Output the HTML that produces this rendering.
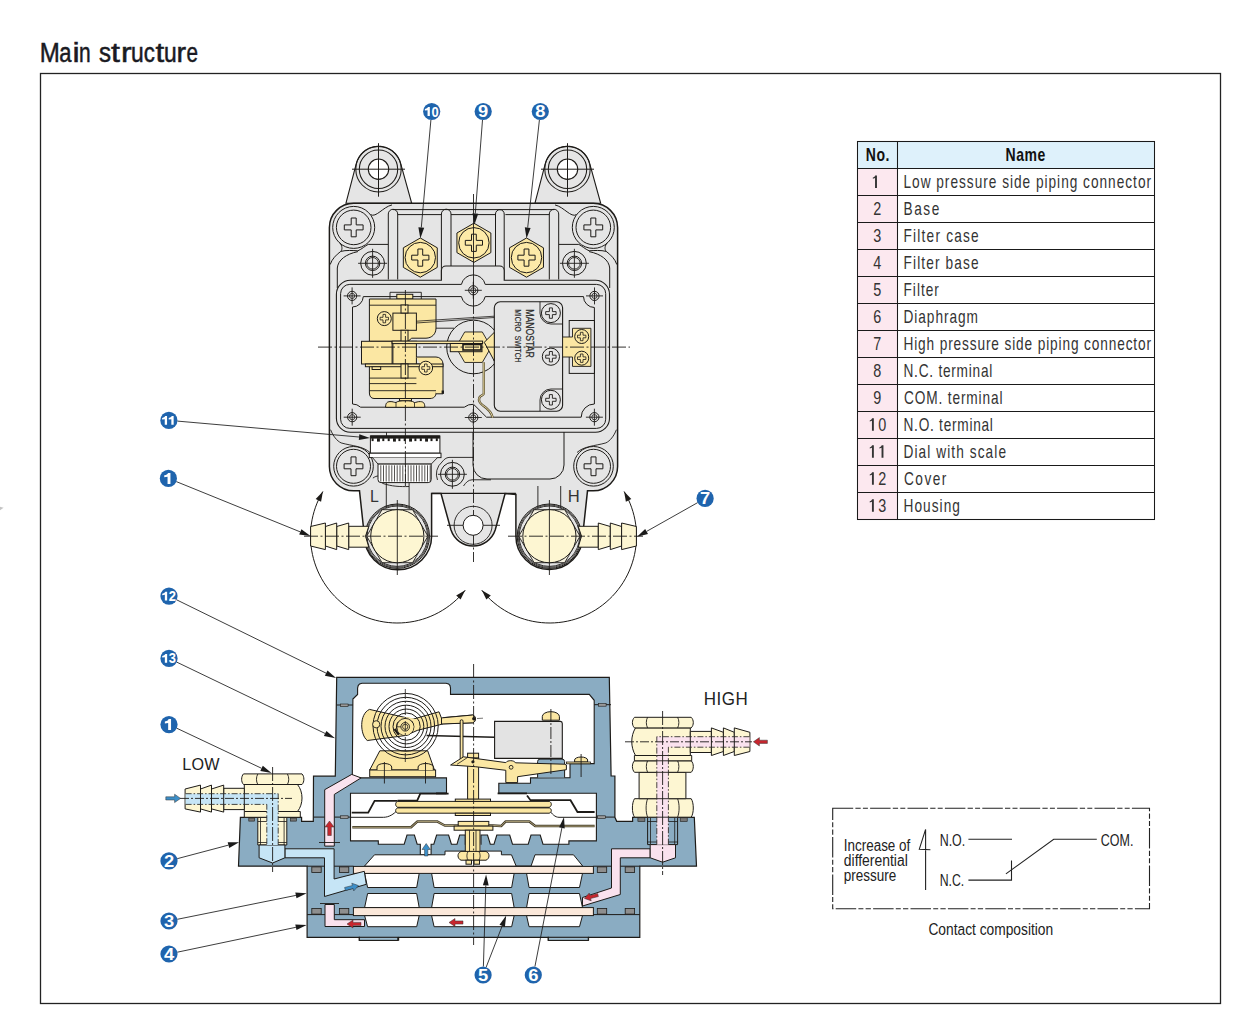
<!DOCTYPE html>
<html><head><meta charset="utf-8"><style>
html,body{margin:0;padding:0;background:#fff;}
svg{display:block;font-family:"Liberation Sans", sans-serif;}
</style></head><body>
<svg width="1243" height="1021" viewBox="0 0 1243 1021">
<rect width="1243" height="1021" fill="#fff"/>
<rect x="40.5" y="73.5" width="1180" height="930" fill="none" stroke="#222" stroke-width="1.3"/>
<g font-size="28" fill="#1a1a22" stroke="#1a1a22" stroke-width="0.5"><text transform="scale(0.8596,1)" x="46.22" y="61.8">M</text><text transform="scale(0.7857,1)" x="75.43" y="61.8">a</text><text transform="scale(1.1500,1)" x="63.08" y="61.8">i</text><text transform="scale(0.7482,1)" x="105.46" y="61.8">n</text><text transform="scale(0.8600,1)" x="115.03" y="61.8">s</text><text transform="scale(1.1500,1)" x="96.45" y="61.8">t</text><text transform="scale(1.1429,1)" x="105.77" y="61.8">r</text><text transform="scale(0.8155,1)" x="160.78" y="61.8">u</text><text transform="scale(0.7952,1)" x="180.77" y="61.8">c</text><text transform="scale(1.1188,1)" x="139.01" y="61.8">t</text><text transform="scale(0.8155,1)" x="201.25" y="61.8">u</text><text transform="scale(1.0286,1)" x="171.68" y="61.8">r</text><text transform="scale(0.7383,1)" x="252.51" y="61.8">e</text></g>
<path d="M0,506.8 L3.6,507.8 L0,510.2 Z" fill="#c4c4c4"/>
<path d="M322.90,491.49 L320.75,495.28 L318.79,499.17 L317.03,503.16 L315.48,507.23 L314.13,511.37 L312.99,515.57 L312.06,519.82 L311.34,524.12 L310.85,528.45 L310.57,532.79 L310.51,537.15 L310.66,541.50 L311.04,545.84 L311.63,550.15 L312.44,554.43 L313.46,558.67 L314.69,562.84 L316.13,566.95 L317.77,570.98 L319.62,574.93 L321.66,578.78 L323.89,582.52 L326.31,586.14 L328.90,589.64 L331.67,593.00 L334.60,596.22 L337.69,599.29 L340.93,602.20 L344.31,604.95 L347.82,607.52 L351.46,609.91 L355.22,612.12 L359.08,614.13 L363.04,615.95 L367.08,617.57 L371.20,618.98 L375.38,620.19 L379.62,621.18 L383.91,621.96 L388.23,622.52 L392.57,622.87 L396.92,623.00 L401.28,622.91 L405.62,622.60 L409.94,622.07 L414.23,621.33 L418.48,620.38 L422.68,619.21 L426.81,617.83 L430.87,616.25 L434.84,614.46 L438.72,612.48 L442.49,610.31 L446.15,607.95 L449.69,605.41 L453.09,602.69 L456.36,599.81 L459.48,596.77 L462.43,593.57 L465.23,590.23" fill="none" stroke="#1d1b18" stroke-width="1.0"/>
<path d="M322.9,491.5 L321.1,501.8 L315.7,499.1Z" fill="#1d1b18"/>
<path d="M465.2,590.2 L460.6,599.6 L456.2,595.5Z" fill="#1d1b18"/>
<path d="M624.10,491.49 L626.25,495.28 L628.21,499.17 L629.97,503.16 L631.52,507.23 L632.87,511.37 L634.01,515.57 L634.94,519.82 L635.66,524.12 L636.15,528.45 L636.43,532.79 L636.49,537.15 L636.34,541.50 L635.96,545.84 L635.37,550.15 L634.56,554.43 L633.54,558.67 L632.31,562.84 L630.87,566.95 L629.23,570.98 L627.38,574.93 L625.34,578.78 L623.11,582.52 L620.69,586.14 L618.10,589.64 L615.33,593.00 L612.40,596.22 L609.31,599.29 L606.07,602.20 L602.69,604.95 L599.18,607.52 L595.54,609.91 L591.78,612.12 L587.92,614.13 L583.96,615.95 L579.92,617.57 L575.80,618.98 L571.62,620.19 L567.38,621.18 L563.09,621.96 L558.77,622.52 L554.43,622.87 L550.08,623.00 L545.72,622.91 L541.38,622.60 L537.06,622.07 L532.77,621.33 L528.52,620.38 L524.32,619.21 L520.19,617.83 L516.13,616.25 L512.16,614.46 L508.28,612.48 L504.51,610.31 L500.85,607.95 L497.31,605.41 L493.91,602.69 L490.64,599.81 L487.52,596.77 L484.57,593.57 L481.77,590.23" fill="none" stroke="#1d1b18" stroke-width="1.0"/>
<path d="M624.1,491.5 L631.3,499.1 L625.9,501.8Z" fill="#1d1b18"/>
<path d="M481.8,590.2 L490.8,595.5 L486.4,599.6Z" fill="#1d1b18"/>
<path d="M345.90,203.3 L356.35,163.39 L356.68,162.24 L357.08,161.11 L357.53,160.00 L358.04,158.92 L358.60,157.86 L359.22,156.84 L359.90,155.85 L360.62,154.89 L361.39,153.98 L362.21,153.10 L363.08,152.27 L363.98,151.49 L364.93,150.76 L365.91,150.07 L366.93,149.44 L367.97,148.86 L369.05,148.34 L370.15,147.87 L371.28,147.47 L372.43,147.12 L373.59,146.83 L374.76,146.61 L375.95,146.44 L377.14,146.34 L378.34,146.30 L379.54,146.32 L380.73,146.41 L381.92,146.56 L383.10,146.77 L384.26,147.04 L385.42,147.37 L386.55,147.76 L387.66,148.21 L388.74,148.72 L389.80,149.28 L390.82,149.90 L391.82,150.57 L392.77,151.29 L393.69,152.06 L394.56,152.88 L395.39,153.74 L396.18,154.64 L396.91,155.59 L397.60,156.57 L398.24,157.58 L398.82,158.63 L399.34,159.71 L399.81,160.81 L400.22,161.94 L400.57,163.08 L411.70,203.3 Z" fill="#e5e5e5" stroke="#1d1b18" stroke-width="1.1"/>
<circle cx="378.50" cy="169.20" r="22.70" fill="none" stroke="#1d1b18" stroke-width="1.05"/>
<circle cx="378.50" cy="169.20" r="19.20" fill="none" stroke="#1d1b18" stroke-width="1.05"/>
<circle cx="378.50" cy="169.20" r="10.20" fill="#fff" stroke="#1d1b18" stroke-width="1.1"/>
<path d="M352.0,169.2H405.0M378.5,143.2V196.7" fill="none" stroke="#1d1b18" stroke-width="1.0"/>
<path d="M534.90,203.3 L545.35,163.39 L545.68,162.24 L546.08,161.11 L546.53,160.00 L547.04,158.92 L547.60,157.86 L548.22,156.84 L548.90,155.85 L549.62,154.89 L550.39,153.98 L551.21,153.10 L552.08,152.27 L552.98,151.49 L553.93,150.76 L554.91,150.07 L555.93,149.44 L556.97,148.86 L558.05,148.34 L559.15,147.87 L560.28,147.47 L561.43,147.12 L562.59,146.83 L563.76,146.61 L564.95,146.44 L566.14,146.34 L567.34,146.30 L568.54,146.32 L569.73,146.41 L570.92,146.56 L572.10,146.77 L573.26,147.04 L574.42,147.37 L575.55,147.76 L576.66,148.21 L577.74,148.72 L578.80,149.28 L579.82,149.90 L580.82,150.57 L581.77,151.29 L582.69,152.06 L583.56,152.88 L584.39,153.74 L585.18,154.64 L585.91,155.59 L586.60,156.57 L587.24,157.58 L587.82,158.63 L588.34,159.71 L588.81,160.81 L589.22,161.94 L589.57,163.08 L600.70,203.3 Z" fill="#e5e5e5" stroke="#1d1b18" stroke-width="1.1"/>
<circle cx="567.50" cy="169.20" r="22.70" fill="none" stroke="#1d1b18" stroke-width="1.05"/>
<circle cx="567.50" cy="169.20" r="19.20" fill="none" stroke="#1d1b18" stroke-width="1.05"/>
<circle cx="567.50" cy="169.20" r="10.20" fill="#fff" stroke="#1d1b18" stroke-width="1.1"/>
<path d="M541.0,169.2H594.0M567.5,143.2V196.7" fill="none" stroke="#1d1b18" stroke-width="1.0"/>
<path d="M329.4,227.5 A24.3,24.3 0 0 1 353.7,203.3 L593.3,203.3 A24.3,24.3 0 0 1 617.6,227.5 L617.6,466.5 A24.3,24.3 0 0 1 593.3,490.8 L587.5,490.8 L582.6,536.2 A33.3,33.3 0 0 1 515.9,536.2 L515.9,494.5 L505.1,493.6 L495.2,530.0 A23.3,23.3 0 0 1 451.0,530.0 L441.0,493.6 L431.6,493.6 L431.6,536.2 A33.3,33.3 0 0 1 364.4,536.2 L359.5,490.8 L353.7,490.8 A24.3,24.3 0 0 1 329.4,466.5 Z" fill="#e5e5e5" stroke="#1d1b18" stroke-width="1.5"/>
<circle cx="353.70" cy="227.40" r="21.00" fill="none" stroke="#1d1b18" stroke-width="1.0"/>
<circle cx="353.70" cy="227.40" r="17.30" fill="none" stroke="#1d1b18" stroke-width="1.0"/>
<path d="M351.20,218.00 L356.20,218.00 L356.20,224.90 L363.10,224.90 L363.10,229.90 L356.20,229.90 L356.20,236.80 L351.20,236.80 L351.20,229.90 L344.30,229.90 L344.30,224.90 L351.20,224.90Z" fill="none" stroke="#1d1b18" stroke-width="1.0"/>
<circle cx="593.30" cy="227.40" r="21.00" fill="none" stroke="#1d1b18" stroke-width="1.0"/>
<circle cx="593.30" cy="227.40" r="17.30" fill="none" stroke="#1d1b18" stroke-width="1.0"/>
<path d="M590.80,218.00 L595.80,218.00 L595.80,224.90 L602.70,224.90 L602.70,229.90 L595.80,229.90 L595.80,236.80 L590.80,236.80 L590.80,229.90 L583.90,229.90 L583.90,224.90 L590.80,224.90Z" fill="none" stroke="#1d1b18" stroke-width="1.0"/>
<circle cx="353.50" cy="466.30" r="19.80" fill="none" stroke="#1d1b18" stroke-width="1.0"/>
<circle cx="353.50" cy="466.30" r="17.00" fill="none" stroke="#1d1b18" stroke-width="1.0"/>
<path d="M351.00,456.90 L356.00,456.90 L356.00,463.80 L362.90,463.80 L362.90,468.80 L356.00,468.80 L356.00,475.70 L351.00,475.70 L351.00,468.80 L344.10,468.80 L344.10,463.80 L351.00,463.80Z" fill="none" stroke="#1d1b18" stroke-width="1.0"/>
<circle cx="593.50" cy="466.30" r="19.80" fill="none" stroke="#1d1b18" stroke-width="1.0"/>
<circle cx="593.50" cy="466.30" r="17.00" fill="none" stroke="#1d1b18" stroke-width="1.0"/>
<path d="M591.00,456.90 L596.00,456.90 L596.00,463.80 L602.90,463.80 L602.90,468.80 L596.00,468.80 L596.00,475.70 L591.00,475.70 L591.00,468.80 L584.10,468.80 L584.10,463.80 L591.00,463.80Z" fill="none" stroke="#1d1b18" stroke-width="1.0"/>
<path d="M370.5,214.6 C376,218 383,207 392,204.9" fill="none" stroke="#1d1b18" stroke-width="1"/>
<path d="M576.50,214.6 C571.00,218 564.00,207 555.00,204.9" fill="none" stroke="#1d1b18" stroke-width="1"/>
<path d="M339.6,242.5 C342.5,246 342.5,249.5 340.8,251.4 C336,255 332,259 330.2,264.5" fill="none" stroke="#1d1b18" stroke-width="1"/>
<path d="M607.40,242.5 C604.50,246 604.50,249.5 606.20,251.4 C611.00,255 615.00,259 616.80,264.5" fill="none" stroke="#1d1b18" stroke-width="1"/>
<path d="M340.8,251.4 C346,250 353,250.5 357.9,250.8 C362,249 365,246 368.2,244.4 L388.1,244.4" fill="none" stroke="#1d1b18" stroke-width="1"/>
<path d="M606.20,251.4 C601.00,250 594.00,250.5 589.10,250.8 C585.00,249 582.00,246 578.80,244.4 L558.90,244.4" fill="none" stroke="#1d1b18" stroke-width="1"/>
<path d="M357.9,251.6 C346,254 338,260 337.3,268 V288" fill="none" stroke="#1d1b18" stroke-width="1"/>
<path d="M589.10,251.6 C601.00,254 609.00,260 609.70,268 V288" fill="none" stroke="#1d1b18" stroke-width="1"/>
<path d="M437.5,480 A16,16 0 0 1 442,462 C444,459.5 446,457.6 449,457.4 H473.5" fill="none" stroke="#1d1b18" stroke-width="0.9"/>
<path d="M463.5,486 C466,482.5 468,480 472,479.8 H491" fill="none" stroke="#1d1b18" stroke-width="0.9"/>
<path d="M382.3,483.3 C392,486.5 400,486.8 409,486.5" fill="none" stroke="#1d1b18" stroke-width="0.9"/>
<circle cx="372.60" cy="263.30" r="11.90" fill="none" stroke="#1d1b18" stroke-width="1.0"/>
<circle cx="372.60" cy="263.30" r="7.20" fill="none" stroke="#1d1b18" stroke-width="1.0"/>
<circle cx="372.60" cy="263.30" r="5.80" fill="none" stroke="#1d1b18" stroke-width="0.9"/>
<path d="M358.1,263.3H387.1M372.6,248.8V277.8" fill="none" stroke="#1d1b18" stroke-width="0.9"/>
<circle cx="574.40" cy="263.30" r="11.90" fill="none" stroke="#1d1b18" stroke-width="1.0"/>
<circle cx="574.40" cy="263.30" r="7.20" fill="none" stroke="#1d1b18" stroke-width="1.0"/>
<circle cx="574.40" cy="263.30" r="5.80" fill="none" stroke="#1d1b18" stroke-width="0.9"/>
<path d="M559.9,263.3H588.9M574.4,248.8V277.8" fill="none" stroke="#1d1b18" stroke-width="0.9"/>
<circle cx="452.40" cy="474.30" r="11.90" fill="none" stroke="#1d1b18" stroke-width="1.0"/>
<circle cx="452.40" cy="474.30" r="7.20" fill="none" stroke="#1d1b18" stroke-width="1.0"/>
<circle cx="452.40" cy="474.30" r="5.80" fill="none" stroke="#1d1b18" stroke-width="0.9"/>
<path d="M437.9,474.3H466.9M452.4,459.8V488.8" fill="none" stroke="#1d1b18" stroke-width="0.9"/>
<path d="M388.3,279.5 V214 A4.7,4.7 0 0 1 397.7,214 V279.5" fill="none" stroke="#1d1b18" stroke-width="1"/>
<path d="M441.4,279.5 V214 A4.8,4.8 0 0 1 451.0,214 V266" fill="none" stroke="#1d1b18" stroke-width="1"/>
<path d="M495.5,266 V214 A4.35,4.35 0 0 1 504.2,214 V279.5" fill="none" stroke="#1d1b18" stroke-width="1"/>
<path d="M549.3,279.5 V214 A4.7,4.7 0 0 1 558.7,214 V279.5" fill="none" stroke="#1d1b18" stroke-width="1"/>
<path d="M393,209.6 H554 M397.7,214.6 H441.6 M451,214.6 H496 M505.4,214.6 H549.3" fill="none" stroke="#1d1b18" stroke-width="1"/>
<path d="M437.27,267.40 L420.30,277.20 L403.33,267.40 L403.33,247.80 L420.30,238.00 L437.27,247.80Z" fill="#fbe7a3" stroke="#1d1b18" stroke-width="1.0"/>
<circle cx="420.30" cy="257.60" r="15.20" fill="#fdeaa8" stroke="#1d1b18" stroke-width="1.0"/>
<path d="M417.90,249.00 L422.70,249.00 L422.70,255.20 L428.90,255.20 L428.90,260.00 L422.70,260.00 L422.70,266.20 L417.90,266.20 L417.90,260.00 L411.70,260.00 L411.70,255.20 L417.90,255.20Z" fill="none" stroke="#1d1b18" stroke-width="1.0"/>
<path d="M490.87,252.60 L473.90,262.40 L456.93,252.60 L456.93,233.00 L473.90,223.20 L490.87,233.00Z" fill="#fbe7a3" stroke="#1d1b18" stroke-width="1.0"/>
<circle cx="473.90" cy="242.80" r="15.20" fill="#fdeaa8" stroke="#1d1b18" stroke-width="1.0"/>
<path d="M471.50,234.20 L476.30,234.20 L476.30,240.40 L482.50,240.40 L482.50,245.20 L476.30,245.20 L476.30,251.40 L471.50,251.40 L471.50,245.20 L465.30,245.20 L465.30,240.40 L471.50,240.40Z" fill="none" stroke="#1d1b18" stroke-width="1.0"/>
<path d="M543.47,267.40 L526.50,277.20 L509.53,267.40 L509.53,247.80 L526.50,238.00 L543.47,247.80Z" fill="#fbe7a3" stroke="#1d1b18" stroke-width="1.0"/>
<circle cx="526.50" cy="257.60" r="15.20" fill="#fdeaa8" stroke="#1d1b18" stroke-width="1.0"/>
<path d="M524.10,249.00 L528.90,249.00 L528.90,255.20 L535.10,255.20 L535.10,260.00 L528.90,260.00 L528.90,266.20 L524.10,266.20 L524.10,260.00 L517.90,260.00 L517.90,255.20 L524.10,255.20Z" fill="none" stroke="#1d1b18" stroke-width="1.0"/>
<path d="M350.4,280.2 H441.4 V270.5 A4.5,4.5 0 0 1 445.9,266 H499.7 A4.5,4.5 0 0 1 504.2,270.5 V280.2 H595.5 A14,14 0 0 1 609.5,294.2 V418.3 A14,14 0 0 1 595.5,432.3 H350.4 A14,14 0 0 1 336.4,418.3 V294.2 A14,14 0 0 1 350.4,280.2 Z" fill="#e5e5e5" stroke="#1d1b18" stroke-width="1.1"/>
<path d="M350,284.4 H461.4 A12.2,12.2 0 0 1 485.2,284.4 H596.5 A9.2,9.2 0 0 1 605.7,293.6 V419.2 A9.2,9.2 0 0 1 596.5,428.4 H349.8 A9.2,9.2 0 0 1 340.6,419.2 V293.6 A9.2,9.2 0 0 1 349.8,284.4 Z" fill="none" stroke="#1d1b18" stroke-width="1.0"/>
<path d="M352.5,307 A11,11 0 0 0 363.3,296.6 H461.4 A12.2,12.2 0 0 0 485.2,296.6 H583.5 A11,11 0 0 0 594.4,307.5 V404 A13.2,13.2 0 0 0 581.2,417.2 H486.5 L473.6,404.3 A13.3,13.3 0 0 0 464.3,407.2 H360.6 A12,12 0 0 0 352.5,404 Z" fill="#e5e5e5" stroke="#1d1b18" stroke-width="1.0"/>
<circle cx="352.10" cy="295.90" r="4.60" fill="none" stroke="#1d1b18" stroke-width="1.0"/>
<circle cx="352.10" cy="295.90" r="2.60" fill="none" stroke="#1d1b18" stroke-width="0.8"/>
<path d="M343.6,295.9H360.6M352.1,287.4V304.4" fill="none" stroke="#1d1b18" stroke-width="0.9"/>
<circle cx="594.50" cy="295.90" r="4.60" fill="none" stroke="#1d1b18" stroke-width="1.0"/>
<circle cx="594.50" cy="295.90" r="2.60" fill="none" stroke="#1d1b18" stroke-width="0.8"/>
<path d="M586.0,295.9H603.0M594.5,287.4V304.4" fill="none" stroke="#1d1b18" stroke-width="0.9"/>
<circle cx="352.20" cy="417.20" r="4.60" fill="none" stroke="#1d1b18" stroke-width="1.0"/>
<circle cx="352.20" cy="417.20" r="2.60" fill="none" stroke="#1d1b18" stroke-width="0.8"/>
<path d="M343.7,417.2H360.7M352.2,408.7V425.7" fill="none" stroke="#1d1b18" stroke-width="0.9"/>
<circle cx="594.40" cy="417.20" r="4.60" fill="none" stroke="#1d1b18" stroke-width="1.0"/>
<circle cx="594.40" cy="417.20" r="2.60" fill="none" stroke="#1d1b18" stroke-width="0.8"/>
<path d="M585.9,417.2H602.9M594.4,408.7V425.7" fill="none" stroke="#1d1b18" stroke-width="0.9"/>
<circle cx="473.30" cy="290.30" r="4.60" fill="none" stroke="#1d1b18" stroke-width="1.0"/>
<circle cx="473.30" cy="290.30" r="2.60" fill="none" stroke="#1d1b18" stroke-width="0.8"/>
<path d="M464.8,290.3H481.8M473.3,281.8V298.8" fill="none" stroke="#1d1b18" stroke-width="0.9"/>
<circle cx="473.30" cy="417.50" r="4.60" fill="none" stroke="#1d1b18" stroke-width="1.0"/>
<circle cx="473.30" cy="417.50" r="2.60" fill="none" stroke="#1d1b18" stroke-width="0.8"/>
<path d="M464.8,417.5H481.8M473.3,409.0V426.0" fill="none" stroke="#1d1b18" stroke-width="0.9"/>
<circle cx="473.50" cy="347.00" r="26.80" fill="#e5e5e5" stroke="#1d1b18" stroke-width="1.0"/>
<rect x="494.3" y="301.8" width="68.3" height="109.4" rx="6" fill="#e5e5e5" stroke="#1d1b18" stroke-width="1.1"/>
<circle cx="550.90" cy="313.10" r="9.50" fill="none" stroke="#1d1b18" stroke-width="1.0"/>
<path d="M549.40,307.90 L552.40,307.90 L552.40,311.60 L556.10,311.60 L556.10,314.60 L552.40,314.60 L552.40,318.30 L549.40,318.30 L549.40,314.60 L545.70,314.60 L545.70,311.60 L549.40,311.60Z" fill="none" stroke="#1d1b18" stroke-width="0.9"/>
<circle cx="550.90" cy="356.70" r="8.60" fill="none" stroke="#1d1b18" stroke-width="1.0"/>
<path d="M549.40,351.50 L552.40,351.50 L552.40,355.20 L556.10,355.20 L556.10,358.20 L552.40,358.20 L552.40,361.90 L549.40,361.90 L549.40,358.20 L545.70,358.20 L545.70,355.20 L549.40,355.20Z" fill="none" stroke="#1d1b18" stroke-width="0.9"/>
<circle cx="550.90" cy="399.80" r="9.50" fill="none" stroke="#1d1b18" stroke-width="1.0"/>
<path d="M549.40,394.60 L552.40,394.60 L552.40,398.30 L556.10,398.30 L556.10,401.30 L552.40,401.30 L552.40,405.00 L549.40,405.00 L549.40,401.30 L545.70,401.30 L545.70,398.30 L549.40,398.30Z" fill="none" stroke="#1d1b18" stroke-width="0.9"/>
<path d="M540,301.8 V313 A11,11 0 0 0 551,324 H562.6 M540,411.2 V400 A11,11 0 0 1 551,389 H562.6" fill="none" stroke="#1d1b18" stroke-width="0.9"/>
<text transform="translate(525.6,309.2) rotate(90)" font-size="10.2" fill="#2a2a2a" stroke="#2a2a2a" stroke-width="0.25" textLength="48.6" lengthAdjust="spacingAndGlyphs">MANOSTAR</text>
<text transform="translate(515.2,309.2) rotate(90)" font-size="8.6" fill="#2a2a2a" stroke="#2a2a2a" stroke-width="0.15" textLength="53.3" lengthAdjust="spacingAndGlyphs" style="white-space:pre">MICRO  SWITCH</text>
<rect x="569.2" y="320.5" width="25.3" height="52.9" fill="none" stroke="#1d1b18" stroke-width="1.0"/>
<path d="M562.6,337 H572.5 V328.3 H590.9 V366.4 H572.5 V357 H562.6 Z" fill="#fbe7a3" stroke="#1d1b18" stroke-width="0.9"/>
<circle cx="581.70" cy="336.50" r="7.00" fill="none" stroke="#1d1b18" stroke-width="1.0"/>
<path d="M580.40,332.30 L583.00,332.30 L583.00,335.20 L585.90,335.20 L585.90,337.80 L583.00,337.80 L583.00,340.70 L580.40,340.70 L580.40,337.80 L577.50,337.80 L577.50,335.20 L580.40,335.20Z" fill="none" stroke="#1d1b18" stroke-width="0.8"/>
<circle cx="581.70" cy="358.20" r="7.00" fill="none" stroke="#1d1b18" stroke-width="1.0"/>
<path d="M580.40,354.00 L583.00,354.00 L583.00,356.90 L585.90,356.90 L585.90,359.50 L583.00,359.50 L583.00,362.40 L580.40,362.40 L580.40,359.50 L577.50,359.50 L577.50,356.90 L580.40,356.90Z" fill="none" stroke="#1d1b18" stroke-width="0.8"/>
<path d="M390,299 V292.3 H421.3 V299" fill="none" stroke="#1d1b18" stroke-width="0.9"/>
<rect x="396.8" y="294.3" width="16" height="4.7" fill="#fbe7a3" stroke="#1d1b18" stroke-width="1.0"/>
<path d="M369.4,299 H436 V328 C436,334 432,338 426,338.2 H411.7 L408,341.3 H392.1 V341.3 H369.4 Z" fill="#fbe7a3" stroke="#1d1b18" stroke-width="1.0"/>
<path d="M369.4,364 H436 V393 C436,396 434,398.5 430,398.5 H374 C371,398.5 369.4,396 369.4,393 Z" fill="#fbe7a3" stroke="#1d1b18" stroke-width="1.0"/>
<rect x="361.5" y="341.3" width="30.6" height="22.7" fill="#fbe7a3" stroke="#1d1b18" stroke-width="1.0"/>
<rect x="392.9" y="341.3" width="23.5" height="22.7" fill="#fbe7a3" stroke="#1d1b18" stroke-width="1.0"/>
<rect x="392.9" y="313.1" width="23.5" height="17.2" fill="#fbe7a3" stroke="#1d1b18" stroke-width="1.0"/>
<path d="M416.4,357 H436 A7,7 0 0 1 443,364 V393.8 H436" fill="#fbe7a3" stroke="#1d1b18" stroke-width="1.0"/>
<rect x="365.4" y="364.0" width="77.6" height="2.7" fill="#fbe7a3" stroke="#1d1b18" stroke-width="1.0"/>
<rect x="372.1" y="366.7" width="8.6" height="2.8" fill="#fbe7a3" stroke="#1d1b18" stroke-width="1.0"/>
<path d="M369.4,305.2 H436" fill="none" stroke="#1d1b18" stroke-width="0.9"/>
<rect x="441.6" y="390.5" width="2.4" height="3.3" fill="#1d1b18"/>
<path d="M369.4,378.1 H416.4 M369.4,383.6 H416.4 M369.4,390.7 H436" fill="none" stroke="#1d1b18" stroke-width="0.9"/>
<rect x="401" y="305" width="7" height="8" fill="#fbe7a3" stroke="#1d1b18" stroke-width="1.0"/>
<rect x="401" y="330.3" width="7" height="11" fill="#fbe7a3" stroke="#1d1b18" stroke-width="1.0"/>
<rect x="401" y="364" width="7" height="14" fill="#fbe7a3" stroke="#1d1b18" stroke-width="1.0"/>
<path d="M385.6,407.3 C385.6,403 387,401.8 390,401.6 C393,401.4 394,402.5 396,402.5 C398,401 401,400.6 405.4,400.6 C410,400.6 412,401 414.5,402.5 C416.5,402.5 417.5,401.4 420.5,401.6 C423.5,401.8 424.8,403 424.8,407.3 Z" fill="#fbe7a3" stroke="#1d1b18" stroke-width="1.0"/>
<path d="M396,402.5 V407.3 M414.5,402.5 V407.3" fill="none" stroke="#1d1b18" stroke-width="0.8"/>
<rect x="399.5" y="398.5" width="12" height="2.2" fill="#fbe7a3" stroke="#1d1b18" stroke-width="1.0"/>
<circle cx="384.30" cy="318.60" r="7.00" fill="#fdeaa8" stroke="#1d1b18" stroke-width="1.0"/>
<path d="M383.00,314.40 L385.60,314.40 L385.60,317.30 L388.50,317.30 L388.50,319.90 L385.60,319.90 L385.60,322.80 L383.00,322.80 L383.00,319.90 L380.10,319.90 L380.10,317.30 L383.00,317.30Z" fill="none" stroke="#1d1b18" stroke-width="0.8"/>
<circle cx="425.80" cy="368.00" r="6.80" fill="#fdeaa8" stroke="#1d1b18" stroke-width="1.0"/>
<path d="M424.50,364.00 L427.10,364.00 L427.10,366.70 L429.80,366.70 L429.80,369.30 L427.10,369.30 L427.10,372.00 L424.50,372.00 L424.50,369.30 L421.80,369.30 L421.80,366.70 L424.50,366.70Z" fill="none" stroke="#1d1b18" stroke-width="0.8"/>
<path d="M416.4,321.2 L494.3,316.2 M416.4,323 L494.3,317.5" fill="none" stroke="#1d1b18" stroke-width="0.8"/>
<path d="M436,328.2 H454" fill="none" stroke="#1d1b18" stroke-width="0.9"/>
<path d="M491.10,347.20 L482.30,362.44 L464.70,362.44 L455.90,347.20 L464.70,331.96 L482.30,331.96Z" fill="#fbe7a3" stroke="#1d1b18" stroke-width="0.9"/>
<path d="M484.3,342.3 L494.3,332.3 V361.1 Z" fill="#fbe7a3" stroke="#1d1b18" stroke-width="1.0"/>
<rect x="392.1" y="341.1" width="90.5" height="2.5" fill="#fbe7a3" stroke="#1d1b18" stroke-width="1.0"/>
<rect x="450.3" y="343.5" width="31.7" height="8.2" fill="#fbe7a3" stroke="#1d1b18" stroke-width="1.0"/>
<rect x="463" y="344.5" width="18" height="5.5" fill="none" stroke="#1d1b18" stroke-width="1.6"/>
<path d="M483.8,362.3 V393.5 C483.8,395.5 480.5,395 479.4,397.5 C478.5,400 479.5,403 483,405.5 C487.5,408.5 491.5,412 492.6,417.5" fill="none" stroke="#5a4f30" stroke-width="2.4"/>
<path d="M483.8,362.3 V393.5 C483.8,395.5 480.5,395 479.4,397.5 C478.5,400 479.5,403 483,405.5 C487.5,408.5 491.5,412 492.6,417.5" fill="none" stroke="#f6e8b0" stroke-width="0.9"/>
<path d="M473,432 V465 A14,14 0 0 0 487,479 H550 A14,14 0 0 0 564,465 V432" fill="none" stroke="#1d1b18" stroke-width="1.0"/>
<path d="M330.6,429.7 C333,436 337,441 341.1,442.9 C352,446 363,446 370,452.5" fill="none" stroke="#1d1b18" stroke-width="0.9"/>
<path d="M372.9,478.1 C375,476.5 377,476 378.3,476" fill="none" stroke="#1d1b18" stroke-width="0.9"/>
<path d="M386.5,432.3 V436.3" fill="none" stroke="#1d1b18" stroke-width="0.9"/>
<path d="M616.4,429.7 C614,436 610,441 605.9,442.9 C595,446 584,446 577,452.5" fill="none" stroke="#1d1b18" stroke-width="0.9"/>
<rect x="370.4" y="436.0" width="69.5" height="17.2" fill="#fff" stroke="#1d1b18" stroke-width="1.0"/>
<rect x="370.4" y="435.4" width="69.5" height="3.2" fill="#1d1b18"/>
<rect x="371.6" y="438.2" width="2.0" height="2.9" fill="#1d1b18"/>
<rect x="377.0" y="438.2" width="2.9" height="3.4" fill="#1d1b18"/>
<rect x="382.3" y="438.2" width="2.0" height="2.9" fill="#1d1b18"/>
<rect x="387.7" y="438.2" width="2.0" height="2.9" fill="#1d1b18"/>
<rect x="393.0" y="438.2" width="2.9" height="3.4" fill="#1d1b18"/>
<rect x="398.4" y="438.2" width="2.0" height="2.9" fill="#1d1b18"/>
<rect x="403.7" y="438.2" width="2.0" height="2.9" fill="#1d1b18"/>
<rect x="409.1" y="438.2" width="2.9" height="3.4" fill="#1d1b18"/>
<rect x="414.4" y="438.2" width="2.0" height="2.9" fill="#1d1b18"/>
<rect x="419.8" y="438.2" width="2.0" height="2.9" fill="#1d1b18"/>
<rect x="425.1" y="438.2" width="2.9" height="3.4" fill="#1d1b18"/>
<rect x="430.5" y="438.2" width="2.0" height="2.9" fill="#1d1b18"/>
<rect x="435.8" y="438.2" width="2.0" height="2.9" fill="#1d1b18"/>
<rect x="369.3" y="453.2" width="71.7" height="4.4" fill="#fff" stroke="#1d1b18" stroke-width="1.0"/>
<path d="M372.5,457.6 L378,464.1 H431.2 L437.5,457.6" fill="#e5e5e5" stroke="#1d1b18" stroke-width="0.9"/>
<path d="M378,464.1 H431.2 V479.5 A3,3 0 0 1 428.2,482.6 H381 A3,3 0 0 1 378,479.5 Z" fill="#fff" stroke="#1d1b18" stroke-width="1.0"/>
<path d="M380.8,465.3V481.5M383.5,465.3V481.5M386.2,465.3V481.5M389.0,465.3V481.5M391.8,465.3V481.5M394.5,465.3V481.5M397.2,465.3V481.5M400.0,465.3V481.5M402.8,465.3V481.5M405.5,465.3V481.5M408.2,465.3V481.5M411.0,465.3V481.5M413.8,465.3V481.5M416.5,465.3V481.5M419.2,465.3V481.5M422.0,465.3V481.5M424.8,465.3V481.5M427.5,465.3V481.5M430.2,465.3V481.5" fill="none" stroke="#1d1b18" stroke-width="0.75"/>
<circle cx="397.30" cy="536.20" r="32.20" fill="#e5e5e5" stroke="#1d1b18" stroke-width="1.0"/>
<circle cx="397.30" cy="536.20" r="30.20" fill="none" stroke="#1d1b18" stroke-width="0.9"/>
<circle cx="397.30" cy="536.20" r="31.20" fill="none" stroke="#1d1b18" stroke-width="0.8"/>
<path d="M427.90,536.20 L412.60,562.70 L382.00,562.70 L366.70,536.20 L382.00,509.70 L412.60,509.70Z" fill="#f6f2e2" stroke="#1d1b18" stroke-width="0.9"/>
<circle cx="397.30" cy="536.20" r="26.60" fill="#fdf6d2" stroke="#1d1b18" stroke-width="1.0"/>
<circle cx="549.40" cy="536.20" r="32.20" fill="#e5e5e5" stroke="#1d1b18" stroke-width="1.0"/>
<circle cx="549.40" cy="536.20" r="30.20" fill="none" stroke="#1d1b18" stroke-width="0.9"/>
<circle cx="549.40" cy="536.20" r="31.20" fill="none" stroke="#1d1b18" stroke-width="0.8"/>
<path d="M580.00,536.20 L564.70,562.70 L534.10,562.70 L518.80,536.20 L534.10,509.70 L564.70,509.70Z" fill="#f6f2e2" stroke="#1d1b18" stroke-width="0.9"/>
<circle cx="549.40" cy="536.20" r="26.60" fill="#fdf6d2" stroke="#1d1b18" stroke-width="1.0"/>
<path d="M386.3,482.8 V508 M409.1,482.8 V508 M537.9,486 V508 M560.7,486 V508" fill="none" stroke="#1d1b18" stroke-width="0.9"/>
<path d="M368.8,526.3 H348.7 V547.2 H368.8 L365.5,536.2 Z" fill="#fdf6d2" stroke="#1d1b18" stroke-width="1.0"/><path d="M336.7,526.5 L348.7,523.0 V549.6 L336.7,546.0 Z" fill="#fdf6d2" stroke="#1d1b18" stroke-width="1.0"/><path d="M325.4,526.5 L336.7,523.0 V549.6 L325.4,546.0 Z" fill="#fdf6d2" stroke="#1d1b18" stroke-width="1.0"/><path d="M310.6,526.5 L325.4,523.0 V549.6 L310.6,546.0 Z" fill="#fdf6d2" stroke="#1d1b18" stroke-width="1.0"/>
<path d="M578.2,526.3 H598.3 V547.2 H578.2 L581.5,536.2 Z" fill="#fdf6d2" stroke="#1d1b18" stroke-width="1.0"/><path d="M610.3,526.5 L598.3,523.0 V549.6 L610.3,546.0 Z" fill="#fdf6d2" stroke="#1d1b18" stroke-width="1.0"/><path d="M621.6,526.5 L610.3,523.0 V549.6 L621.6,546.0 Z" fill="#fdf6d2" stroke="#1d1b18" stroke-width="1.0"/><path d="M636.4,526.5 L621.6,523.0 V549.6 L636.4,546.0 Z" fill="#fdf6d2" stroke="#1d1b18" stroke-width="1.0"/>
<path d="M473.5,194 V300" fill="none" stroke="#1d1b18" stroke-width="0.9"/>
<path d="M473.5,300 V562" fill="none" stroke="#1d1b18" stroke-width="0.9" stroke-dasharray="14,2.5,2,2.5"/>
<path d="M318,347.1 H630" fill="none" stroke="#1d1b18" stroke-width="0.9" stroke-dasharray="14,2.5,2,2.5"/>
<path d="M405.4,290 V486" fill="none" stroke="#1d1b18" stroke-width="0.9" stroke-dasharray="16,2.5,2,2.5"/>
<path d="M304,536.2 H438 M508,536.2 H643" fill="none" stroke="#1d1b18" stroke-width="0.9" stroke-dasharray="14,2.5,2,2.5"/>
<path d="M397.3,500 V575 M549.4,500 V575" fill="none" stroke="#1d1b18" stroke-width="0.9"/>
<path d="M447,525.3 H500" fill="none" stroke="#1d1b18" stroke-width="0.9"/>
<path d="M431.6,493.4 H515.9" fill="none" stroke="#1d1b18" stroke-width="1.3"/>
<circle cx="473.10" cy="525.30" r="10.00" fill="#fff" stroke="#1d1b18" stroke-width="1.0"/>
<circle cx="473.10" cy="525.30" r="19.00" fill="none" stroke="#1d1b18" stroke-width="0.9"/>
<text x="370.0" y="501.6" font-size="15.8" fill="#333" textLength="8.8" lengthAdjust="spacingAndGlyphs">L</text>
<text x="567.8" y="501.6" font-size="15.8" fill="#333" textLength="12" lengthAdjust="spacingAndGlyphs">H</text>
<path d="M336.70,677.30 L609.30,677.30 L611.10,776.00 L614.90,776.00 L614.90,817.30 L616.70,821.30 L632.60,821.30 L632.60,817.30 L694.30,817.30 L696.50,866.20 L639.80,866.20 L639.80,937.40 L588.50,937.40 L588.50,940.20 L548.30,940.20 L548.30,937.40 L398.60,937.40 L398.60,940.20 L359.40,940.20 L359.40,937.40 L307.10,937.40 L307.10,866.20 L238.50,866.20 L240.40,817.30 L301.60,817.30 L301.60,821.30 L313.30,821.30 L313.50,776.20 L335.30,776.20Z" fill="#8aacc2" stroke="#1d1b18" stroke-width="1.2" stroke-linejoin="miter" />
<rect x="359.3" y="937.3" width="38.5" height="3.1" fill="#9fbdd0" stroke="#1d1b18" stroke-width="1.1"/>
<rect x="548.3" y="937.3" width="40.0" height="3.1" fill="#9fbdd0" stroke="#1d1b18" stroke-width="1.1"/>
<path d="M352.90,699.00 L357.60,694.40 L357.60,688.00 L358.20,685.60 L359.60,684.00 L362.00,683.20 L446.00,683.20 L448.60,684.00 L450.00,685.60 L450.50,688.00 L450.50,694.40 L589.30,694.40 L594.20,700.30 L594.20,763.60 L570.00,763.60 L570.00,777.60 L530.50,777.90 L530.50,783.20 L498.80,783.20 L498.80,793.20 L596.40,793.20 L596.40,840.90 L568.90,840.90 L568.90,844.20 L543.00,844.20 L540.20,835.00 L531.00,835.00 L528.20,844.20 L512.50,844.20 L509.70,835.00 L496.80,835.00 L494.00,844.20 L490.30,844.20 L487.50,835.00 L481.00,835.00 L481.00,844.20 L465.30,844.20 L465.30,835.00 L459.70,835.00 L457.00,844.20 L451.40,844.20 L448.60,835.00 L436.60,835.00 L433.80,844.20 L431.10,844.20 L431.10,854.80 L420.30,854.80 L420.30,844.20 L417.20,844.20 L414.40,835.00 L407.00,835.00 L404.20,844.20 L378.30,844.20 L378.30,840.90 L350.50,840.90 L350.50,793.20 L446.50,793.20 L446.50,777.90 L361.10,777.90 L352.30,777.00Z" fill="#fff" stroke="#1d1b18" stroke-width="1.1" stroke-linejoin="miter" />
<rect x="465.8" y="843.5" width="14.7" height="9" fill="#fff" stroke="none"/>
<path d="M364.40,866.20 L374.50,854.80 L445.00,854.80 L445.00,851.10 L501.40,851.10 L501.40,854.80 L511.50,854.80 L516.20,866.20 L531.00,866.20 L535.00,854.80 L573.50,854.80 L582.80,866.20Z" fill="#fff" stroke="#1d1b18" stroke-width="1.0" stroke-linejoin="miter" />
<path d="M364.60,873.40 L419.20,873.40 L416.70,887.50 L367.60,887.50Z" fill="#fff" stroke="#1d1b18" stroke-width="1.0" stroke-linejoin="miter" />
<path d="M431.60,873.40 L514.15,873.40 L511.65,887.50 L434.10,887.50Z" fill="#fff" stroke="#1d1b18" stroke-width="1.0" stroke-linejoin="miter" />
<path d="M526.55,873.40 L582.50,873.40 L579.50,887.50 L529.05,887.50Z" fill="#fff" stroke="#1d1b18" stroke-width="1.0" stroke-linejoin="miter" />
<path d="M367.60,893.50 L416.70,893.50 L419.20,907.60 L364.60,907.60Z" fill="#fff" stroke="#1d1b18" stroke-width="1.0" stroke-linejoin="miter" />
<path d="M434.10,893.50 L511.65,893.50 L514.15,907.60 L431.60,907.60Z" fill="#fff" stroke="#1d1b18" stroke-width="1.0" stroke-linejoin="miter" />
<path d="M529.05,893.50 L579.50,893.50 L582.50,907.60 L526.55,907.60Z" fill="#fff" stroke="#1d1b18" stroke-width="1.0" stroke-linejoin="miter" />
<path d="M364.60,915.60 L419.20,915.60 L416.70,926.70 L367.60,926.70Z" fill="#fff" stroke="#1d1b18" stroke-width="1.0" stroke-linejoin="miter" />
<path d="M431.60,915.60 L514.15,915.60 L511.65,926.70 L434.10,926.70Z" fill="#fff" stroke="#1d1b18" stroke-width="1.0" stroke-linejoin="miter" />
<path d="M526.55,915.60 L582.50,915.60 L579.50,926.70 L529.05,926.70Z" fill="#fff" stroke="#1d1b18" stroke-width="1.0" stroke-linejoin="miter" />
<rect x="353.4" y="866.4" width="240" height="7.0" fill="#fbe8da" stroke="#1d1b18" stroke-width="1.0"/>
<rect x="353.4" y="907.6" width="240" height="8.0" fill="#fbe8da" stroke="#1d1b18" stroke-width="1.0"/>
<path d="M307.10,866.20 L353.40,866.20" fill="none" stroke="#1d1b18" stroke-width="1.0" /><path d="M593.40,866.20 L639.80,866.20" fill="none" stroke="#1d1b18" stroke-width="1.0" />
<path d="M307.10,914.60 L353.40,914.60" fill="none" stroke="#1d1b18" stroke-width="1.0" /><path d="M593.40,914.60 L639.80,914.60" fill="none" stroke="#1d1b18" stroke-width="1.0" />
<path d="M313.50,817.10 L350.50,817.10" fill="none" stroke="#1d1b18" stroke-width="1.0" /><path d="M596.40,817.10 L614.90,817.10" fill="none" stroke="#1d1b18" stroke-width="1.0" />
<path d="M336.70,705.00 L352.90,705.00" fill="none" stroke="#1d1b18" stroke-width="1.0" /><path d="M594.20,704.70 L611.00,704.70" fill="none" stroke="#1d1b18" stroke-width="1.0" />
<rect x="311.8" y="866.9" width="9.4" height="5.6" fill="#8e8e8e" stroke="#1d1b18" stroke-width="0.8"/>
<rect x="311.8" y="908.5" width="9.4" height="5.6" fill="#8e8e8e" stroke="#1d1b18" stroke-width="0.8"/>
<rect x="339.4" y="866.9" width="9.4" height="5.6" fill="#8e8e8e" stroke="#1d1b18" stroke-width="0.8"/>
<rect x="339.4" y="908.5" width="9.4" height="5.6" fill="#8e8e8e" stroke="#1d1b18" stroke-width="0.8"/>
<rect x="597.3" y="866.9" width="9.4" height="5.6" fill="#8e8e8e" stroke="#1d1b18" stroke-width="0.8"/>
<rect x="597.3" y="908.5" width="9.4" height="5.6" fill="#8e8e8e" stroke="#1d1b18" stroke-width="0.8"/>
<rect x="625.2" y="866.9" width="9.4" height="5.6" fill="#8e8e8e" stroke="#1d1b18" stroke-width="0.8"/>
<rect x="625.2" y="908.5" width="9.4" height="5.6" fill="#8e8e8e" stroke="#1d1b18" stroke-width="0.8"/>
<rect x="340.3" y="704.0" width="7.8" height="2.6" fill="#9a9a9a" stroke="#1d1b18" stroke-width="0.6"/>
<rect x="598.3" y="703.6" width="7.8" height="2.6" fill="#9a9a9a" stroke="#1d1b18" stroke-width="0.6"/>
<rect x="340.3" y="815.8" width="7.8" height="2.6" fill="#9a9a9a" stroke="#1d1b18" stroke-width="0.6"/>
<rect x="597.5" y="815.8" width="7.8" height="2.6" fill="#9a9a9a" stroke="#1d1b18" stroke-width="0.6"/>
<path d="M284.90,848.80 L334.10,848.80 L334.10,879.00 L364.30,871.30 L366.30,884.30 L324.50,896.50 L324.50,857.80 L284.90,857.80Z" fill="#c6e5f6" stroke="#1d1b18" stroke-width="1.0" stroke-linejoin="miter" />
<path d="M351.70,774.40 L361.10,777.90 L334.30,794.40 L334.30,846.10 L324.70,846.10 L324.70,789.70Z" fill="#fae2ee" stroke="#1d1b18" stroke-width="1.0" stroke-linejoin="miter" />
<path d="M325.00,904.50 L334.30,904.50 L334.30,919.70 L364.50,919.70 L364.50,926.50 L325.00,926.50Z" fill="#fae2ee" stroke="#1d1b18" stroke-width="1.0" stroke-linejoin="miter" />
<path d="M650.20,848.80 L611.50,848.80 L611.50,888.00 L582.50,897.50 L582.50,906.00 L620.30,894.50 L620.30,857.80 L650.20,857.80Z" fill="#fae2ee" stroke="#1d1b18" stroke-width="1.0" stroke-linejoin="miter" />
<path d="M319.00,842.50 L340.00,842.50" fill="none" stroke="#1d1b18" stroke-width="0.9" /><path d="M320.00,903.50 L339.00,903.50" fill="none" stroke="#1d1b18" stroke-width="0.9" />
<path d="M257.80,817.30 L286.80,817.30 L286.80,845.00 L257.80,845.00Z" fill="#fdf6d2" stroke="#1d1b18" stroke-width="1.0" stroke-linejoin="miter" /><path d="M257.80,821.50 L286.80,821.50" fill="none" stroke="#1d1b18" stroke-width="0.8" /><path d="M257.80,842.50 L286.80,842.50" fill="none" stroke="#1d1b18" stroke-width="0.8" /><path d="M260.50,817.30 L260.50,845.00" fill="none" stroke="#1d1b18" stroke-width="0.8" /><path d="M284.10,817.30 L284.10,845.00" fill="none" stroke="#1d1b18" stroke-width="0.8" /><path d="M259.10,845.00 L284.90,845.00 L284.90,857.80 L272.60,863.00 L259.10,857.80Z" fill="#c6e5f6" stroke="#1d1b18" stroke-width="1.0" stroke-linejoin="miter" /><path d="M244.30,811.50 L300.30,811.50 L300.30,817.30 L244.30,817.30Z" fill="#fdf6d2" stroke="#1d1b18" stroke-width="1.0" stroke-linejoin="miter" /><path d="M244.3,784.5 H297.5 C303.5,792 303.5,804 297.5,811.5 H244.3 Z" fill="#fdf6d2" stroke="#1d1b18" stroke-width="1.0"/><path d="M243.5,773.9 H302 C304.5,776.5 304.5,782 302,784.5 H243.5 C241,782 241,776.5 243.5,773.9 Z" fill="#fdf6d2" stroke="#1d1b18" stroke-width="1.0"/><path d="M257.8,774 C256,777 256,781.5 257.8,784.5 M287.4,774 C289.2,777 289.2,781.5 287.4,784.5" fill="none" stroke="#1d1b18" stroke-width="0.9"/><path d="M223.70,788.30 L244.30,788.30 L244.30,809.60 L223.70,809.60Z" fill="#fdf6d2" stroke="#1d1b18" stroke-width="1.0" stroke-linejoin="miter" /><path d="M211.50,789.00 L223.70,785.10 L223.70,812.10 L211.50,808.90Z" fill="#fdf6d2" stroke="#1d1b18" stroke-width="1.0" stroke-linejoin="miter" /><path d="M200.50,789.00 L211.50,785.10 L211.50,812.10 L200.50,808.90Z" fill="#fdf6d2" stroke="#1d1b18" stroke-width="1.0" stroke-linejoin="miter" /><path d="M185.10,789.00 L200.50,785.10 L200.50,812.10 L185.10,808.90Z" fill="#fdf6d2" stroke="#1d1b18" stroke-width="1.0" stroke-linejoin="miter" /><rect x="185.6" y="793.7" width="92.6" height="10.7" fill="#c6e5f6" stroke="none"/><rect x="266.8" y="793.7" width="11.4" height="51.3" fill="#c6e5f6" stroke="none"/><path d="M200.50,793.70 L200.50,804.40" fill="none" stroke="#1d1b18" stroke-width="1.0" /><path d="M211.50,793.70 L211.50,804.40" fill="none" stroke="#1d1b18" stroke-width="1.0" /><path d="M223.70,793.70 L223.70,804.40" fill="none" stroke="#1d1b18" stroke-width="1.0" /><path d="M244.30,793.70 L244.30,804.40" fill="none" stroke="#1d1b18" stroke-width="1.0" /><path d="M185.60,793.70 L278.20,793.70 L278.20,845.00" fill="none" stroke="#1d1b18" stroke-width="0.8" stroke-dasharray="6,2,1.5,2"/><path d="M185.60,804.40 L266.80,804.40 L266.80,845.00" fill="none" stroke="#1d1b18" stroke-width="0.8" stroke-dasharray="6,2,1.5,2"/><path d="M180.00,798.40 L292.00,798.40" fill="none" stroke="#1d1b18" stroke-width="0.9" stroke-dasharray="9,2,2,2"/><path d="M272.60,767.00 L272.60,872.00" fill="none" stroke="#1d1b18" stroke-width="0.9" stroke-dasharray="14,2,2,2"/><rect x="248.8" y="818" width="5.8" height="3.1" fill="#777" stroke="#1d1b18" stroke-width="0.6"/><rect x="290.6" y="818" width="5.8" height="3.1" fill="#777" stroke="#1d1b18" stroke-width="0.6"/>
<path d="M647.60,817.20 L677.60,817.20 L677.60,844.60 L647.60,844.60Z" fill="#8aacc2" stroke="#1d1b18" stroke-width="1.0" stroke-linejoin="miter" /><path d="M647.60,821.50 L677.60,821.50" fill="none" stroke="#1d1b18" stroke-width="0.8" /><path d="M647.60,842.00 L677.60,842.00" fill="none" stroke="#1d1b18" stroke-width="0.8" /><path d="M650.50,817.20 L650.50,844.60" fill="none" stroke="#1d1b18" stroke-width="0.8" /><path d="M674.70,817.20 L674.70,844.60" fill="none" stroke="#1d1b18" stroke-width="0.8" /><path d="M650.20,844.60 L675.50,844.60 L675.50,857.80 L662.60,862.20 L650.20,857.80Z" fill="#fae2ee" stroke="#1d1b18" stroke-width="1.0" stroke-linejoin="miter" /><path d="M634.5,798.7 H691.2 C694,803 694,813 691.2,817.2 H634.5 C631.7,813 631.7,803 634.5,798.7 Z" fill="#fdf6d2" stroke="#1d1b18" stroke-width="1.0"/><path d="M647.6,798.7 C645.6,804 645.6,812 647.6,817.2 M677.6,798.7 C679.6,804 679.6,812 677.6,817.2" fill="none" stroke="#1d1b18" stroke-width="0.9"/><path d="M639.10,772.30 L685.90,772.30 L685.90,798.70 L639.10,798.70Z" fill="#fdf6d2" stroke="#1d1b18" stroke-width="1.0" stroke-linejoin="miter" /><path d="M634.5,760.8 H691.2 C694,763.5 694,769.5 691.2,772.3 H634.5 C631.7,769.5 631.7,763.5 634.5,760.8 Z" fill="#fdf6d2" stroke="#1d1b18" stroke-width="1.0"/><path d="M647.6,760.8 C645.9,764 645.9,769 647.6,772.3 M677.6,760.8 C679.3,764 679.3,769 677.6,772.3" fill="none" stroke="#1d1b18" stroke-width="0.9"/><path d="M634.40,755.50 L691.70,755.50 L691.70,760.80 L634.40,760.80Z" fill="#fdf6d2" stroke="#1d1b18" stroke-width="1.0" stroke-linejoin="miter" /><path d="M635.5,727.9 H690.3 V755.5 H635.5 C630.5,747 630.5,736 635.5,727.9 Z" fill="#fdf6d2" stroke="#1d1b18" stroke-width="1.0"/><path d="M634.5,717.3 H691.2 C694,720 694,725.2 691.2,727.9 H634.5 C631.7,725.2 631.7,720 634.5,717.3 Z" fill="#fdf6d2" stroke="#1d1b18" stroke-width="1.0"/><path d="M647.6,717.3 C645.9,720 645.9,725 647.6,727.9 M677.6,717.3 C679.3,720 679.3,725 677.6,727.9" fill="none" stroke="#1d1b18" stroke-width="0.9"/><path d="M690.30,731.40 L711.40,731.40 L711.40,752.50 L690.30,752.50Z" fill="#fdf6d2" stroke="#1d1b18" stroke-width="1.0" stroke-linejoin="miter" /><path d="M711.40,727.90 L723.40,732.30 L723.40,751.50 L711.40,755.50Z" fill="#fdf6d2" stroke="#1d1b18" stroke-width="1.0" stroke-linejoin="miter" /><path d="M723.40,727.90 L734.30,732.30 L734.30,751.50 L723.40,755.50Z" fill="#fdf6d2" stroke="#1d1b18" stroke-width="1.0" stroke-linejoin="miter" /><path d="M734.30,727.90 L749.90,732.30 L749.90,751.50 L734.30,755.50Z" fill="#fdf6d2" stroke="#1d1b18" stroke-width="1.0" stroke-linejoin="miter" /><rect x="656.8" y="736.7" width="92.6" height="10.5" fill="#fae2ee" stroke="none"/><rect x="656.8" y="736.7" width="11.6" height="108" fill="#fae2ee" stroke="none"/><path d="M690.30,736.70 L690.30,747.20" fill="none" stroke="#1d1b18" stroke-width="1.0" /><path d="M711.40,736.70 L711.40,747.20" fill="none" stroke="#1d1b18" stroke-width="1.0" /><path d="M723.40,736.70 L723.40,747.20" fill="none" stroke="#1d1b18" stroke-width="1.0" /><path d="M734.30,736.70 L734.30,747.20" fill="none" stroke="#1d1b18" stroke-width="1.0" /><path d="M656.80,760.80 L668.40,760.80" fill="none" stroke="#1d1b18" stroke-width="0.9" /><path d="M656.80,772.30 L668.40,772.30" fill="none" stroke="#1d1b18" stroke-width="0.9" /><path d="M656.80,798.70 L668.40,798.70" fill="none" stroke="#1d1b18" stroke-width="0.9" /><path d="M656.80,817.20 L668.40,817.20" fill="none" stroke="#1d1b18" stroke-width="0.9" /><path d="M656.80,755.50 L668.40,755.50" fill="none" stroke="#1d1b18" stroke-width="0.9" /><path d="M749.40,736.70 L656.80,736.70 L656.80,844.60" fill="none" stroke="#1d1b18" stroke-width="0.8" stroke-dasharray="6,2,1.5,2"/><path d="M749.40,747.20 L668.40,747.20 L668.40,844.60" fill="none" stroke="#1d1b18" stroke-width="0.8" stroke-dasharray="6,2,1.5,2"/><path d="M625.00,741.80 L752.00,741.80" fill="none" stroke="#1d1b18" stroke-width="0.9" stroke-dasharray="9,2,2,2"/><path d="M662.60,711.00 L662.60,875.00" fill="none" stroke="#1d1b18" stroke-width="0.9" stroke-dasharray="14,2,2,2"/><rect x="637.9" y="817.8" width="7" height="3.6" fill="#777" stroke="#1d1b18" stroke-width="0.6"/><rect x="680.2" y="817.8" width="7" height="3.6" fill="#777" stroke="#1d1b18" stroke-width="0.6"/>
<path d="M165.80,796.80 L174.60,796.80 L174.60,794.20 L180.60,798.40 L174.60,802.60 L174.60,800.00 L165.80,800.00Z" fill="#3d8fc8" stroke="#333" stroke-width="0.5"/>
<path d="M767.40,743.40 L759.40,743.40 L759.40,746.00 L753.40,741.80 L759.40,737.60 L759.40,740.20 L767.40,740.20Z" fill="#c8262e" stroke="#333" stroke-width="0.5"/>
<path d="M327.70,835.50 L327.70,827.00 L325.00,827.00 L329.50,821.00 L334.00,827.00 L331.30,827.00 L331.30,835.50Z" fill="#c8262e" stroke="#333" stroke-width="0.5"/>
<path d="M424.55,856.00 L424.55,849.50 L422.00,849.50 L426.20,843.50 L430.40,849.50 L427.85,849.50 L427.85,856.00Z" fill="#3d8fc8" stroke="#333" stroke-width="0.5"/>
<path d="M344.61,887.45 L352.38,885.51 L351.79,883.18 L358.58,885.61 L353.73,890.95 L353.15,888.62 L345.39,890.55Z" fill="#3d8fc8" stroke="#333" stroke-width="0.5"/>
<path d="M361.00,925.60 L353.00,925.60 L353.00,928.00 L347.00,924.00 L353.00,920.00 L353.00,922.40 L361.00,922.40Z" fill="#c8262e" stroke="#333" stroke-width="0.5"/>
<path d="M463.00,924.10 L455.00,924.10 L455.00,926.50 L449.00,922.50 L455.00,918.50 L455.00,920.90 L463.00,920.90Z" fill="#c8262e" stroke="#333" stroke-width="0.5"/>
<path d="M598.39,896.55 L590.62,898.49 L591.21,900.82 L584.42,898.39 L589.27,893.05 L589.85,895.38 L597.61,893.45Z" fill="#c8262e" stroke="#333" stroke-width="0.5"/>
<path d="M537.6,777.6 V761.5 A2.5,2.5 0 0 1 540,759.1 H562 A2.5,2.5 0 0 1 564.6,761.5 V777.6" fill="#8aacc2" stroke="#1d1b18" stroke-width="1.0"/>
<path d="M497.60,793.40 L527.00,793.40" fill="none" stroke="#1d1b18" stroke-width="1.8" />
<path d="M446.50,793.40 L436.00,793.40" fill="none" stroke="#1d1b18" stroke-width="1.8" />
<path d="M494.6,721.4 H560.5 A2,2 0 0 1 562.3,723.4 V758.4 H494.6 Z" fill="#e3e3e3" stroke="#1d1b18" stroke-width="1.1"/>
<path d="M542.3,720.2 V716.5 A8.5,4.8 0 0 1 559.4,716.5 V720.2 Z" fill="#fbe7a3" stroke="#1d1b18" stroke-width="1.0"/>
<path d="M574.6,762 V760 A6.5,3 0 0 1 587.6,760 V762 Z" fill="#fbe7a3" stroke="#1d1b18" stroke-width="1.0"/>
<rect x="566.4" y="762" width="24" height="1.8" fill="#fbe7a3" stroke="#1d1b18" stroke-width="0.8"/>
<path d="M369.70,770.00 L379.80,750.80 L427.70,750.80 L434.50,770.00Z" fill="#fbe7a3" stroke="#1d1b18" stroke-width="1.0" stroke-linejoin="round" />
<rect x="369.7" y="770" width="65.9" height="6.7" fill="#fbe7a3" stroke="#1d1b18" stroke-width="1.0"/>
<path d="M377,770 V767 A7.35,3.5 0 0 1 391.7,767 V770" fill="#fbe7a3" stroke="#1d1b18" stroke-width="1.0"/>
<path d="M418.1,770 V767 A7.6,3.5 0 0 1 433.3,767 V770" fill="#fbe7a3" stroke="#1d1b18" stroke-width="1.0"/>
<path d="M369.5,709.4 L412.9,719.2 L439,711.8 L442.5,720.8 L443.5,717.6 L472.8,715.0 A4.2,4.2 0 0 1 472.8,722.8 L443.5,723.8 L417.3,730.4 L405.7,735.5 L367.3,740.5 C360,735 359,714 369.5,709.4 Z" fill="#fbe7a3" stroke="#1d1b18" stroke-width="1.0" stroke-linejoin="round"/>
<circle cx="405.2" cy="726.8" r="8.7" fill="#fbe7a3" stroke="#1d1b18" stroke-width="1.0"/>
<path d="M397,722 C400,716 410,716 416,720 L440,718" fill="#fbe7a3" stroke="none"/>
<circle cx="405.60" cy="726.00" r="32.6" fill="none" stroke="#1d1b18" stroke-width="1.0"/>
<circle cx="405.80" cy="726.12" r="28.8" fill="none" stroke="#1d1b18" stroke-width="1.0"/>
<circle cx="406.00" cy="726.24" r="25.0" fill="none" stroke="#1d1b18" stroke-width="1.0"/>
<circle cx="406.20" cy="726.36" r="21.2" fill="none" stroke="#1d1b18" stroke-width="1.0"/>
<circle cx="406.40" cy="726.48" r="17.4" fill="none" stroke="#1d1b18" stroke-width="1.0"/>
<circle cx="406.60" cy="726.60" r="13.6" fill="none" stroke="#1d1b18" stroke-width="1.0"/>
<circle cx="405.2" cy="726.8" r="8.4" fill="#fbe7a3" stroke="none"/>
<path d="M397.5,730.5 A8.4,8.4 0 0 1 413.2,723.5" fill="none" stroke="#1d1b18" stroke-width="0.9"/>
<circle cx="405.2" cy="726.8" r="4.3" fill="#fbe7a3" stroke="#1d1b18" stroke-width="0.9"/>
<circle cx="405.2" cy="726.8" r="2.6" fill="none" stroke="#1d1b18" stroke-width="0.8"/>
<circle cx="376.2" cy="724.3" r="3.6" fill="#fbe7a3" stroke="#1d1b18" stroke-width="0.9"/>
<path d="M394.50,729.00 L398.80,734.80" fill="none" stroke="#1d1b18" stroke-width="2.2" />
<path d="M396.00,726.80 L401.00,726.80" fill="none" stroke="#1d1b18" stroke-width="0.8" />
<path d="M441.5,717.9 L472.8,715.0 A4.2,4.2 0 0 1 472.8,722.8 L441.5,724.0 Z" fill="#fbe7a3" stroke="#1d1b18" stroke-width="1.0"/>
<circle cx="473.9" cy="718.7" r="1.8" fill="#1d1b18"/>
<path d="M477.00,718.50 L483.00,718.20" fill="none" stroke="#1d1b18" stroke-width="0.6" />
<path d="M426.60,735.60 L494.60,737.30" fill="none" stroke="#1d1b18" stroke-width="1.5" />
<rect x="460.2" y="719.8" width="2.8" height="42.3" rx="1.3" fill="#fbe7a3" stroke="#1d1b18" stroke-width="1.0"/>
<rect x="467.6" y="757.9" width="11" height="41.5" fill="#fbe7a3" stroke="#1d1b18" stroke-width="1.0"/>
<rect x="467.6" y="753.2" width="11" height="4.7" fill="#fbe7a3" stroke="#1d1b18" stroke-width="1.0"/>
<path d="M450.6,765 L463.5,756.8 L505.8,762.6 C507.5,760 514,760 515.5,762.8 L564.6,764.2 L566.4,765 L566.4,769.7 L517.6,776.7 L517.6,782.6 L505.8,782.6 L505.8,770.3 L475.3,766.7 Z" fill="#fbe7a3" stroke="#1d1b18" stroke-width="1.0" stroke-linejoin="round"/>
<path d="M457.00,764.30 L467.50,757.50" fill="none" stroke="#1d1b18" stroke-width="0.8" />
<circle cx="511.1" cy="767.3" r="1.9" fill="none" stroke="#1d1b18" stroke-width="0.9"/>
<circle cx="472.9" cy="761.8" r="1.6" fill="#1d1b18"/>
<path d="M351.70,812.60 L368.20,812.60 L374.60,800.80 L397.60,800.80" fill="none" stroke="#1d1b18" stroke-width="1.8" />
<path d="M527.00,795.50 L530.50,800.20 L570.50,800.20 L577.50,812.00 L594.60,812.00" fill="none" stroke="#1d1b18" stroke-width="1.8" />
<path d="M448.60,793.60 L420.30,793.60 L417.20,800.60 L397.60,800.60" fill="none" stroke="#1d1b18" stroke-width="1.8" />
<path d="M351,817.3 H383.5 C389,817.3 394,814 397.3,810.2" fill="none" stroke="#1d1b18" stroke-width="1.0"/>
<path d="M549.3,810.2 C552,814 555,817.3 559,817.3 H596.4" fill="none" stroke="#1d1b18" stroke-width="1.0"/>
<path d="M397.6,801.4 H549.3 C552,802.5 552,806 549.3,807.3 H397.6 C395,806 395,802.5 397.6,801.4 Z" fill="#fbe7a3" stroke="#1d1b18" stroke-width="1.0"/>
<path d="M397.6,807.9 H549.3 C552,809 552,812 549.3,813.2 H397.6 C395,812 395,809 397.6,807.9 Z" fill="#fbe7a3" stroke="#1d1b18" stroke-width="1.0"/>
<rect x="455.3" y="799.1" width="35.2" height="2.3" fill="#fbe7a3" stroke="#1d1b18" stroke-width="1.0"/>
<rect x="455.3" y="813.2" width="35.2" height="2.3" fill="#fbe7a3" stroke="#1d1b18" stroke-width="1.0"/>
<path d="M352.30,827.30 L411.00,827.30 L417.50,821.40 L437.00,821.40 L444.70,825.50 L454.10,825.50 L492.90,825.50 L501.10,826.10 L505.80,821.40 L529.30,821.40 L535.20,826.10 L594.60,826.10" fill="none" stroke="#3f3826" stroke-width="2.5" stroke-linejoin="round"/>
<path d="M352.30,827.30 L411.00,827.30 L417.50,821.40 L437.00,821.40 L444.70,825.50 L454.10,825.50 L492.90,825.50 L501.10,826.10 L505.80,821.40 L529.30,821.40 L535.20,826.10 L594.60,826.10" fill="none" stroke="#b3a77e" stroke-width="0.95" stroke-linejoin="round"/>
<rect x="458.2" y="821.4" width="30.6" height="4.7" fill="#fbe7a3" stroke="#1d1b18" stroke-width="1.0"/>
<rect x="454.1" y="826.1" width="38.8" height="4.1" fill="#fbe7a3" stroke="#1d1b18" stroke-width="1.0"/>
<rect x="465.3" y="830.2" width="14.7" height="22.5" fill="#fbe7a3" stroke="#1d1b18" stroke-width="1.0"/>
<path d="M469.50,830.20 L469.50,852.70" fill="none" stroke="#1d1b18" stroke-width="0.8" /><path d="M476.00,830.20 L476.00,852.70" fill="none" stroke="#1d1b18" stroke-width="0.8" />
<path d="M461,851.4 H486 C490,853 490,858.6 486,860.2 H461 C457,858.6 457,853 461,851.4 Z" fill="#fbe7a3" stroke="#1d1b18" stroke-width="1.0"/>
<path d="M468,851.6 C466.5,854 466.5,858 468,860 M479,851.6 C480.5,854 480.5,858 479,860" fill="none" stroke="#1d1b18" stroke-width="0.8"/>
<rect x="466" y="860.2" width="5.5" height="4" fill="#fbe7a3" stroke="#1d1b18" stroke-width="1.0"/>
<rect x="474" y="860.2" width="5.5" height="4" fill="#fbe7a3" stroke="#1d1b18" stroke-width="1.0"/>
<path d="M473.60,664.00 L473.60,945.00" fill="none" stroke="#1d1b18" stroke-width="0.9" stroke-dasharray="14,2.5,2,2.5"/>
<path d="M405.30,689.00 L405.30,762.00" fill="none" stroke="#1d1b18" stroke-width="0.8" stroke-dasharray="10,2,2,2"/>
<path d="M384.40,762.00 L384.40,783.50" fill="none" stroke="#1d1b18" stroke-width="0.9" /><path d="M425.50,762.00 L425.50,783.50" fill="none" stroke="#1d1b18" stroke-width="0.9" />
<path d="M550.90,709.00 L550.90,774.00" fill="none" stroke="#1d1b18" stroke-width="0.9" stroke-dasharray="12,2,2,2"/>
<path d="M581.10,754.00 L581.10,777.00" fill="none" stroke="#1d1b18" stroke-width="0.9" />
<rect x="857.5" y="141.5" width="297.0" height="27.0" fill="#def1fb"/>
<rect x="857.5" y="168.5" width="40.0" height="351.0" fill="#fce8ef"/>
<g stroke="#1a1a1a" stroke-width="1.05" fill="none">
<rect x="857.5" y="141.5" width="297.0" height="378.0"/>
<line x1="897.5" y1="141.5" x2="897.5" y2="519.5"/>
<line x1="857.5" y1="168.50" x2="1154.5" y2="168.50"/>
<line x1="857.5" y1="195.50" x2="1154.5" y2="195.50"/>
<line x1="857.5" y1="222.50" x2="1154.5" y2="222.50"/>
<line x1="857.5" y1="249.50" x2="1154.5" y2="249.50"/>
<line x1="857.5" y1="276.50" x2="1154.5" y2="276.50"/>
<line x1="857.5" y1="303.50" x2="1154.5" y2="303.50"/>
<line x1="857.5" y1="330.50" x2="1154.5" y2="330.50"/>
<line x1="857.5" y1="357.50" x2="1154.5" y2="357.50"/>
<line x1="857.5" y1="384.50" x2="1154.5" y2="384.50"/>
<line x1="857.5" y1="411.50" x2="1154.5" y2="411.50"/>
<line x1="857.5" y1="438.50" x2="1154.5" y2="438.50"/>
<line x1="857.5" y1="465.50" x2="1154.5" y2="465.50"/>
<line x1="857.5" y1="492.50" x2="1154.5" y2="492.50"/>
</g>
<g fill="#333">
<text transform="scale(0.78,1)" x="1109.95 1123.58 1135.21" y="160.9" font-size="18.0" font-weight="bold" fill="#111" style="white-space:pre">No.</text>
<text transform="scale(0.78,1)" x="1289.18 1302.85 1313.54 1330.22" y="160.9" font-size="18.0" font-weight="bold" fill="#111" style="white-space:pre">Name</text>
<path d="M875.05,187.90 V178.00 L872.85,178.80 V177.60 C874.25,177.00 874.85,176.30 875.15,175.40 H876.95 V187.90 Z" stroke="none"/>
<text transform="scale(0.76,1)" x="1188.79 1200.09 1211.39 1225.68 1231.97 1243.27 1250.55 1261.85 1272.14 1282.43 1293.73 1301.01 1312.31 1318.61 1328.89 1334.18 1345.48 1356.78 1363.07 1374.37 1379.66 1390.96 1396.25 1407.55 1418.85 1425.14 1435.43 1446.73 1458.03 1469.33 1480.63 1490.92 1497.21 1508.52" y="187.90" font-size="18.0"  style="white-space:pre">Low pressure side piping connector</text>
<text transform="scale(0.8,1)" x="1091.62" y="214.88" font-size="18.0" >2</text>
<text transform="scale(0.76,1)" x="1188.79 1202.83 1214.88 1225.92" y="214.88" font-size="18.0"  style="white-space:pre">Base</text>
<text transform="scale(0.8,1)" x="1091.67" y="241.86" font-size="18.0" >3</text>
<text transform="scale(0.76,1)" x="1188.79 1201.38 1206.97 1212.57 1219.17 1230.77 1238.36 1244.96 1255.56 1267.17 1277.76" y="241.86" font-size="18.0"  style="white-space:pre">Filter case</text>
<text transform="scale(0.8,1)" x="1091.68" y="268.84" font-size="18.0" >4</text>
<text transform="scale(0.76,1)" x="1188.79 1201.28 1206.77 1212.27 1218.76 1230.27 1237.76 1244.25 1255.76 1267.27 1277.76" y="268.84" font-size="18.0"  style="white-space:pre">Filter base</text>
<text transform="scale(0.8,1)" x="1091.64" y="295.82" font-size="18.0" >5</text>
<text transform="scale(0.76,1)" x="1188.79 1201.11 1206.44 1211.77 1218.10 1229.44" y="295.82" font-size="18.0"  style="white-space:pre">Filter</text>
<text transform="scale(0.8,1)" x="1091.56" y="322.80" font-size="18.0" >6</text>
<text transform="scale(0.76,1)" x="1188.79 1203.04 1208.29 1219.55 1230.82 1242.08 1249.32 1260.59 1271.85" y="322.80" font-size="18.0"  style="white-space:pre">Diaphragm</text>
<text transform="scale(0.8,1)" x="1091.61" y="349.78" font-size="18.0" >7</text>
<text transform="scale(0.76,1)" x="1188.79 1202.92 1208.05 1219.20 1230.34 1236.48 1247.62 1254.75 1265.90 1276.03 1286.16 1297.31 1304.44 1315.58 1321.72 1331.85 1336.98 1348.13 1359.27 1365.41 1376.55 1381.69 1392.83 1397.96 1409.11 1420.25 1426.39 1436.52 1447.67 1458.81 1469.96 1481.10 1491.24 1497.37 1508.52" y="349.78" font-size="18.0"  style="white-space:pre">High pressure side piping connector</text>
<text transform="scale(0.8,1)" x="1091.62" y="376.76" font-size="18.0" >8</text>
<text transform="scale(0.76,1)" x="1188.79 1202.77 1208.77 1222.75 1228.74 1234.73 1240.72 1251.72 1258.71 1274.69 1279.68 1290.68 1301.68" y="376.76" font-size="18.0"  style="white-space:pre">N.C. terminal</text>
<text transform="scale(0.8,1)" x="1091.62" y="403.74" font-size="18.0" >9</text>
<text transform="scale(0.76,1)" x="1189.35 1203.49 1218.64 1234.78 1240.92 1247.07 1253.21 1264.37 1271.51 1287.65 1292.79 1303.94 1315.10" y="403.74" font-size="18.0"  style="white-space:pre">COM. terminal</text>
<path d="M871.95,430.72 V420.82 L869.75,421.62 V420.42 C871.15,419.82 871.75,419.12 872.05,418.22 H873.85 V430.72 Z" stroke="none"/>
<text transform="scale(0.8,1)" x="1097.87" y="430.72" font-size="18.0" >0</text>
<text transform="scale(0.76,1)" x="1188.79 1202.76 1208.73 1223.70 1229.67 1235.65 1241.62 1252.60 1259.57 1275.53 1280.50 1291.49 1302.47" y="430.72" font-size="18.0"  style="white-space:pre">N.O. terminal</text>
<path d="M871.95,457.70 V447.80 L869.75,448.60 V447.40 C871.15,446.80 871.75,446.10 872.05,445.20 H873.85 V457.70 Z" stroke="none"/>
<path d="M881.55,457.70 V447.80 L879.35,448.60 V447.40 C880.75,446.80 881.35,446.10 881.65,445.20 H883.45 V457.70 Z" stroke="none"/>
<text transform="scale(0.76,1)" x="1188.79 1203.20 1208.62 1220.05 1225.47 1231.89 1246.31 1251.73 1258.15 1269.58 1276.00 1286.42 1296.84 1308.27 1313.68" y="457.70" font-size="18.0"  style="white-space:pre">Dial with scale</text>
<path d="M871.95,484.68 V474.78 L869.75,475.58 V474.38 C871.15,473.78 871.75,473.08 872.05,472.18 H873.85 V484.68 Z" stroke="none"/>
<text transform="scale(0.8,1)" x="1097.87" y="484.68" font-size="18.0" >2</text>
<text transform="scale(0.76,1)" x="1189.35 1204.33 1216.33 1227.31 1239.30" y="484.68" font-size="18.0"  style="white-space:pre">Cover</text>
<path d="M871.95,511.66 V501.76 L869.75,502.56 V501.36 C871.15,500.76 871.75,500.06 872.05,499.16 H873.85 V511.66 Z" stroke="none"/>
<text transform="scale(0.8,1)" x="1097.92" y="511.66" font-size="18.0" >3</text>
<text transform="scale(0.76,1)" x="1188.79 1203.15 1214.52 1225.89 1236.26 1241.62 1252.99" y="511.66" font-size="18.0"  style="white-space:pre">Housing</text>
</g>
<rect x="832.7" y="808.3" width="316.8" height="100.5" fill="none" stroke="#222" stroke-width="1.1" stroke-dasharray="20.5,2.2,5.3,2.2,5.0,2.2"/>
<g fill="#222" font-size="15.8">
<text x="843.8" y="850.5" textLength="66.5" lengthAdjust="spacingAndGlyphs">Increase of</text>
<text x="843.8" y="865.8" textLength="64" lengthAdjust="spacingAndGlyphs">differential</text>
<text x="843.8" y="881.2" textLength="52.5" lengthAdjust="spacingAndGlyphs">pressure</text>
<text x="939.7" y="846.4" textLength="25.5" lengthAdjust="spacingAndGlyphs">N.O.</text>
<text x="939.7" y="885.7" textLength="24.5" lengthAdjust="spacingAndGlyphs">N.C.</text>
<text x="1100.8" y="846.0" textLength="32.6" lengthAdjust="spacingAndGlyphs">COM.</text>
<text x="928.4" y="934.5" textLength="124.8" lengthAdjust="spacingAndGlyphs" font-size="16.3">Contact composition</text>
</g>
<g stroke="#222" stroke-width="1.1" fill="none">
<path d="M925.6,890 L925.6,829.4 L919.3,849.2 L930.4,849.8"/>
<path d="M968.4,839.3 L1012,839.3"/>
<path d="M968.4,880.1 L1011.5,880.1 L1011.5,860.4"/>
<path d="M1005.9,873.9 L1053.7,839.3 L1096.8,839.3"/>
</g>
<text transform="scale(0.93,1)" x="196.10 205.95 219.66" y="769.6" font-size="17.4" fill="#222" style="white-space:pre">LOW</text>
<text transform="scale(0.95,1)" x="740.74 754.18 759.67 774.11" y="705.2" font-size="17.9" fill="#222" style="white-space:pre">HIGH</text>
<line x1="430.9" y1="120.0" x2="421.3" y2="227.5" stroke="#1a1a1a" stroke-width="0.85"/><path d="M420.3,238.5 L418.4,227.3 L424.2,227.8 Z" fill="#1a1a1a"/>
<line x1="482.5" y1="120.0" x2="475.3" y2="213.5" stroke="#1a1a1a" stroke-width="0.85"/><path d="M474.5,224.5 L472.5,213.3 L478.2,213.8 Z" fill="#1a1a1a"/>
<line x1="539.4" y1="120.0" x2="527.7" y2="227.6" stroke="#1a1a1a" stroke-width="0.85"/><path d="M526.5,238.5 L524.8,227.3 L530.6,227.9 Z" fill="#1a1a1a"/>
<line x1="177.4" y1="421.1" x2="359.0" y2="437.0" stroke="#1a1a1a" stroke-width="0.85"/><path d="M370.0,438.0 L358.8,439.9 L359.3,434.2 Z" fill="#1a1a1a"/>
<line x1="176.3" y1="481.6" x2="300.3" y2="531.9" stroke="#1a1a1a" stroke-width="0.85"/><path d="M310.5,536.0 L299.2,534.6 L301.4,529.2 Z" fill="#1a1a1a"/>
<line x1="697.7" y1="502.6" x2="646.6" y2="531.4" stroke="#1a1a1a" stroke-width="0.85"/><path d="M637.0,536.8 L645.2,528.9 L648.0,533.9 Z" fill="#1a1a1a"/>
<line x1="176.6" y1="599.8" x2="326.2" y2="673.2" stroke="#1a1a1a" stroke-width="0.85"/><path d="M336.1,678.0 L324.9,675.8 L327.5,670.6 Z" fill="#1a1a1a"/>
<line x1="176.7" y1="662.1" x2="325.2" y2="733.5" stroke="#1a1a1a" stroke-width="0.85"/><path d="M335.1,738.3 L323.9,736.1 L326.4,730.9 Z" fill="#1a1a1a"/>
<line x1="176.7" y1="728.2" x2="261.6" y2="768.3" stroke="#1a1a1a" stroke-width="0.85"/><path d="M271.5,773.0 L260.3,770.9 L262.8,765.7 Z" fill="#1a1a1a"/>
<line x1="177.2" y1="858.7" x2="228.5" y2="845.1" stroke="#1a1a1a" stroke-width="0.85"/><path d="M239.1,842.3 L229.2,847.9 L227.7,842.3 Z" fill="#1a1a1a"/>
<line x1="177.3" y1="919.3" x2="295.9" y2="895.4" stroke="#1a1a1a" stroke-width="0.85"/><path d="M306.7,893.2 L296.5,898.2 L295.3,892.5 Z" fill="#1a1a1a"/>
<line x1="177.3" y1="952.2" x2="295.9" y2="927.3" stroke="#1a1a1a" stroke-width="0.85"/><path d="M306.7,925.0 L296.5,930.1 L295.3,924.4 Z" fill="#1a1a1a"/>
<line x1="483.4" y1="966.5" x2="485.8" y2="885.4" stroke="#1a1a1a" stroke-width="0.85"/><path d="M486.1,874.4 L488.7,885.5 L482.9,885.3 Z" fill="#1a1a1a"/>
<line x1="486.2" y1="967.1" x2="502.2" y2="925.9" stroke="#1a1a1a" stroke-width="0.85"/><path d="M506.2,915.6 L504.9,926.9 L499.5,924.8 Z" fill="#1a1a1a"/>
<line x1="534.9" y1="966.7" x2="561.9" y2="827.8" stroke="#1a1a1a" stroke-width="0.85"/><path d="M564.0,817.0 L564.7,828.4 L559.1,827.2 Z" fill="#1a1a1a"/>
<circle cx="431.7" cy="111.5" r="8.6" fill="#1f64ad"/>
<path d="M427.55,115.90 V110.27 L424.91,110.62 V109.04 C427.11,108.68 427.75,107.80 427.95,107.10 H429.85 V115.90 Z" fill="#fff"/>
<text x="435.10" y="116.5" font-size="13.8" font-weight="bold" fill="#fff" text-anchor="middle" textLength="7.2" lengthAdjust="spacingAndGlyphs">0</text>
<circle cx="483.2" cy="111.5" r="8.6" fill="#1f64ad"/>
<text x="483.2" y="117.3" font-size="16.4" font-weight="bold" fill="#fff" text-anchor="middle" textLength="10.2" lengthAdjust="spacingAndGlyphs">9</text>
<circle cx="540.3" cy="111.5" r="8.6" fill="#1f64ad"/>
<text x="540.3" y="117.3" font-size="16.4" font-weight="bold" fill="#fff" text-anchor="middle" textLength="10.2" lengthAdjust="spacingAndGlyphs">8</text>
<circle cx="168.9" cy="420.4" r="8.6" fill="#1f64ad"/>
<path d="M164.75,424.80 V419.17 L162.11,419.52 V417.94 C164.31,417.58 164.95,416.70 165.15,416.00 H167.05 V424.80 Z" fill="#fff"/>
<path d="M171.35,424.80 V419.17 L168.71,419.52 V417.94 C170.91,417.58 171.55,416.70 171.75,416.00 H173.65 V424.80 Z" fill="#fff"/>
<circle cx="168.4" cy="478.4" r="8.6" fill="#1f64ad"/>
<path d="M167.55,483.90 V476.86 L164.25,477.30 V475.32 C167.00,474.88 167.75,473.78 167.95,472.90 H170.45 V483.90 Z" fill="#fff"/>
<circle cx="705.1" cy="498.4" r="8.6" fill="#1f64ad"/>
<text x="705.1" y="504.2" font-size="16.4" font-weight="bold" fill="#fff" text-anchor="middle" textLength="10.2" lengthAdjust="spacingAndGlyphs">7</text>
<circle cx="169" cy="596.1" r="8.6" fill="#1f64ad"/>
<path d="M164.85,600.50 V594.87 L162.21,595.22 V593.64 C164.41,593.28 165.05,592.40 165.25,591.70 H167.15 V600.50 Z" fill="#fff"/>
<text x="172.40" y="601.1" font-size="13.8" font-weight="bold" fill="#fff" text-anchor="middle" textLength="7.2" lengthAdjust="spacingAndGlyphs">2</text>
<circle cx="169" cy="658.4" r="8.6" fill="#1f64ad"/>
<path d="M164.85,662.80 V657.17 L162.21,657.52 V655.94 C164.41,655.58 165.05,654.70 165.25,654.00 H167.15 V662.80 Z" fill="#fff"/>
<text x="172.40" y="663.4" font-size="13.8" font-weight="bold" fill="#fff" text-anchor="middle" textLength="7.2" lengthAdjust="spacingAndGlyphs">3</text>
<circle cx="169" cy="724.6" r="8.6" fill="#1f64ad"/>
<path d="M168.15,730.10 V723.06 L164.85,723.50 V721.52 C167.60,721.08 168.35,719.98 168.55,719.10 H171.05 V730.10 Z" fill="#fff"/>
<circle cx="169" cy="860.9" r="8.6" fill="#1f64ad"/>
<text x="169" y="866.7" font-size="16.4" font-weight="bold" fill="#fff" text-anchor="middle" textLength="10.2" lengthAdjust="spacingAndGlyphs">2</text>
<circle cx="169" cy="921" r="8.6" fill="#1f64ad"/>
<text x="169" y="926.8" font-size="16.4" font-weight="bold" fill="#fff" text-anchor="middle" textLength="10.2" lengthAdjust="spacingAndGlyphs">3</text>
<circle cx="169" cy="954" r="8.6" fill="#1f64ad"/>
<text x="169" y="959.8" font-size="16.4" font-weight="bold" fill="#fff" text-anchor="middle" textLength="10.2" lengthAdjust="spacingAndGlyphs">4</text>
<circle cx="483.1" cy="975" r="8.6" fill="#1f64ad"/>
<text x="483.1" y="980.8" font-size="16.4" font-weight="bold" fill="#fff" text-anchor="middle" textLength="10.2" lengthAdjust="spacingAndGlyphs">5</text>
<circle cx="533.3" cy="975" r="8.6" fill="#1f64ad"/>
<text x="533.3" y="980.8" font-size="16.4" font-weight="bold" fill="#fff" text-anchor="middle" textLength="10.2" lengthAdjust="spacingAndGlyphs">6</text>
</svg></body></html>
